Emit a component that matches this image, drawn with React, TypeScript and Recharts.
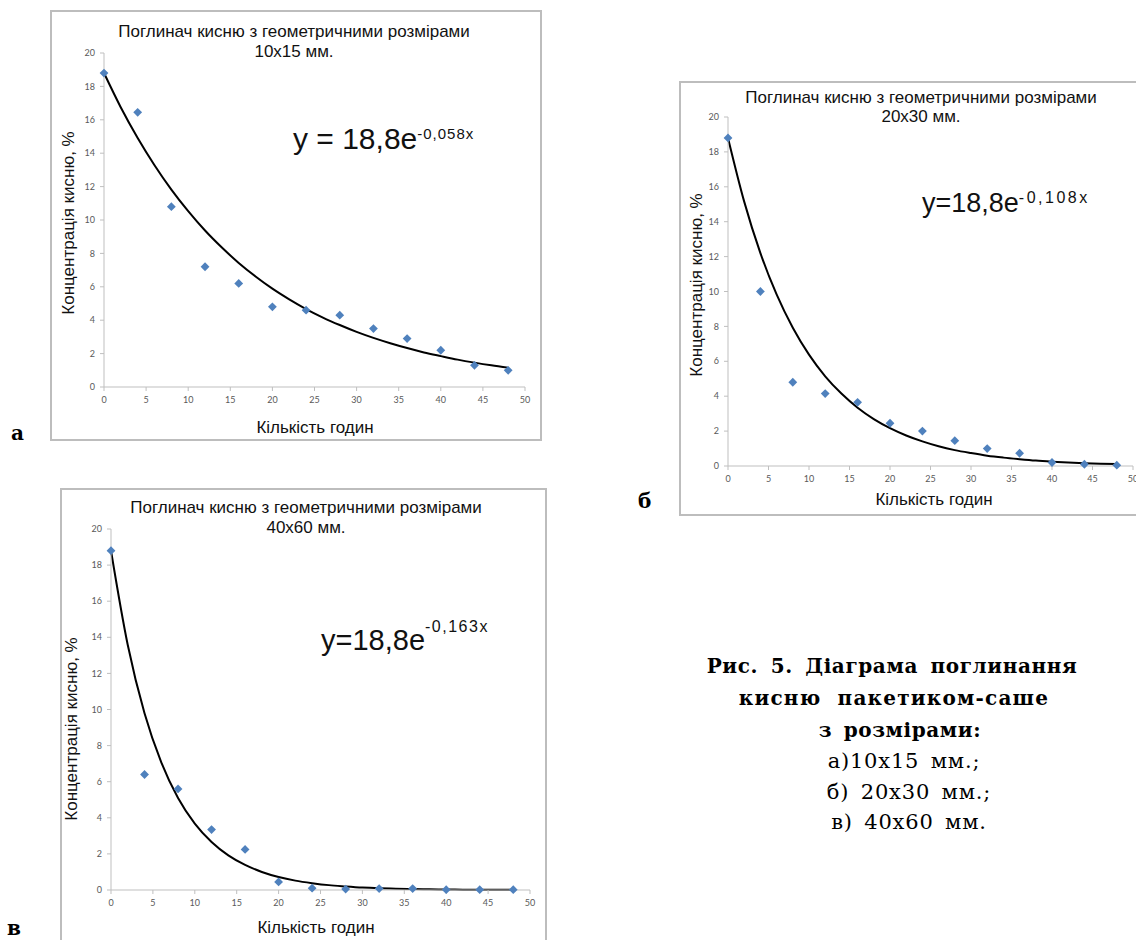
import React from 'react';
import { ComposedChart, XAxis, YAxis, Line, Scatter } from 'recharts';

// ---------- data ----------
const hours = [0, 4, 8, 12, 16, 20, 24, 28, 32, 36, 40, 44, 48];
const oxygenA = [18.8, 16.45, 10.8, 7.2, 6.2, 4.8, 4.6, 4.3, 3.5, 2.9, 2.2, 1.3, 1.0];
const oxygenB = [18.8, 10.0, 4.8, 4.15, 3.65, 2.45, 2.0, 1.45, 1.0, 0.73, 0.2, 0.1, 0.05];
const oxygenC = [18.8, 6.4, 5.6, 3.35, 2.25, 0.45, 0.1, 0.05, 0.08, 0.08, 0.02, 0.02, 0.02];

const trendHours = [0, 2, 4, 6, 8, 10, 12, 14, 16, 18, 20, 22, 24, 26, 28, 30, 32, 34, 36, 38, 40, 42, 44, 46, 48];
const trendA = [18.8, 16.74, 14.91, 13.28, 11.82, 10.53, 9.37, 8.35, 7.43, 6.62, 5.89, 5.25, 4.67, 4.16, 3.71, 3.3, 2.94, 2.62, 2.33, 2.07, 1.85, 1.64, 1.46, 1.3, 1.16];
const trendB = [18.8, 15.15, 12.2, 9.83, 7.92, 6.38, 5.14, 4.15, 3.34, 2.69, 2.17, 1.75, 1.41, 1.13, 0.91, 0.74, 0.59, 0.48, 0.39, 0.31, 0.25, 0.2, 0.16, 0.13, 0.11];
const trendC = [18.8, 13.57, 9.79, 7.07, 5.1, 3.68, 2.66, 1.92, 1.39, 1.0, 0.72, 0.52, 0.38, 0.27, 0.2, 0.14, 0.1, 0.074, 0.053, 0.038, 0.028, 0.02, 0.014, 0.01, 0.0075];

const xTicks = [0, 5, 10, 15, 20, 25, 30, 35, 40, 45, 50];
const yTicks = [0, 2, 4, 6, 8, 10, 12, 14, 16, 18, 20];

const titleMain = 'Поглинач кисню з геометричними розмірами';
const sizeLabels = ['10x15 мм.', '20x30 мм.', '40x60 мм.'];
const eqBase = ['y = 18,8e', 'y=18,8e', 'y=18,8e'];
const eqExp = ['-0,058x', '-0,108x', '-0,163x'];
const xTitle = 'Кількість годин';
const yTitle = 'Концентрація кисню, %';
const panelLetters = ['а', 'б', 'в'];
const captionLines = [
  'Рис. 5. Діаграма поглинання',
  'кисню пакетиком-саше',
  'з розмірами:',
  'а)10x15 мм.;',
  'б) 20x30 мм.;',
  'в) 40x60 мм.',
];

// ---------- components ----------
const Diamond = (props: any) => {
  const { cx, cy } = props;
  if (cx == null || cy == null) return null;
  const r = 4.4;
  return (
    <path
      d={`M${cx},${cy - r}L${cx + r},${cy}L${cx},${cy + r}L${cx - r},${cy}Z`}
      fill="#4F81BD"
    />
  );
};

const tickStyle = { fill: '#595959', fontSize: 9, fontFamily: 'Lato, "Liberation Sans", sans-serif' };

function Panel({ frame, margin, values, trend }: any) {
  const pts = hours.map((h, i) => ({ x: h, y: values[i] }));
  const tr = trendHours.map((h, i) => ({ x: h, y: trend[i] }));
  return (
    <div
      style={{
        position: 'absolute',
        left: frame.left,
        top: frame.top,
        width: frame.width,
        height: frame.height,
        border: '2px solid #bdbdbd',
        boxSizing: 'border-box',
        background: '#fff',
      }}
    >
      <ComposedChart width={frame.width - 4} height={frame.height - 4} margin={margin}>
        <XAxis
          type="number"
          dataKey="x"
          domain={[0, 50]}
          ticks={xTicks}
          interval={0}
          height={30}
          tickSize={4}
          tickMargin={6}
          axisLine={{ stroke: '#bfbfbf' }}
          tickLine={{ stroke: '#bfbfbf' }}
          tick={tickStyle}
        />
        <YAxis
          type="number"
          dataKey="y"
          domain={[0, 20]}
          ticks={yTicks}
          interval={0}
          width={30}
          tickSize={4}
          tickMargin={5}
          axisLine={{ stroke: '#bfbfbf' }}
          tickLine={{ stroke: '#bfbfbf' }}
          tick={tickStyle}
        />
        <Line
          data={tr}
          dataKey="y"
          type="monotone"
          dot={false}
          stroke="#000"
          strokeWidth={2}
          isAnimationActive={false}
        />
        <Scatter data={pts} dataKey="y" shape={Diamond} isAnimationActive={false} />
      </ComposedChart>
    </div>
  );
}

const sans = '"Liberation Sans", Arial, sans-serif';
const serif = '"DejaVu Serif", "Liberation Serif", serif';

export default function App() {
  const panels = [
    {
      frame: { left: 50, top: 10, width: 492, height: 431 },
      margin: { left: 22, top: 41, right: 15, bottom: 22 },
      values: oxygenA,
      trend: trendA,
      title: { cx: 294, y1: 37, y2: 57 },
      eq: { x: 293, y: 149, size: 30, expSize: 15, dy: -10, ls: 1 },
      xt: { cx: 315, y: 433 },
      yt: { x: 74, cy: 223 },
      letter: { x: 11, y: 440 },
    },
    {
      frame: { left: 679, top: 81, width: 471, height: 435 },
      margin: { left: 17, top: 34, right: 15, bottom: 18 },
      values: oxygenB,
      trend: trendB,
      title: { cx: 921, y1: 103, y2: 122 },
      eq: { x: 922, y: 212, size: 27, expSize: 16, dy: -9, ls: 2.5 },
      xt: { cx: 934, y: 505 },
      yt: { x: 702, cy: 285 },
      letter: { x: 638, y: 508 },
    },
    {
      frame: { left: 60, top: 488, width: 487, height: 472 },
      margin: { left: 19, top: 39, right: 15, bottom: 38 },
      values: oxygenC,
      trend: trendC,
      title: { cx: 306, y1: 513, y2: 533 },
      eq: { x: 321, y: 650, size: 29, expSize: 16, dy: -18, ls: 1.5 },
      xt: { cx: 316, y: 933 },
      yt: { x: 77, cy: 729 },
      letter: { x: 7, y: 935 },
    },
  ];

  const capCenters = [892, 894, 900, 904, 909, 909];
  const capBase = [673, 705, 737, 768, 799, 829];

  return (
    <div
      style={{
        position: 'absolute',
        left: 0,
        top: 0,
        width: 1136,
        height: 940,
        overflow: 'hidden',
        background: '#fff',
      }}
    >
      {panels.map((p, i) => (
        <Panel key={i} frame={p.frame} margin={p.margin} values={p.values} trend={p.trend} />
      ))}
      <svg
        width={1136}
        height={940}
        style={{ position: 'absolute', left: 0, top: 0, pointerEvents: 'none' }}
      >
        {panels.map((p, i) => (
          <g key={i} fontFamily={sans} fill="#111">
            <text x={p.title.cx} y={p.title.y1} textAnchor="middle" fontSize={17}>
              {titleMain}
            </text>
            <text x={p.title.cx} y={p.title.y2} textAnchor="middle" fontSize={17}>
              {sizeLabels[i]}
            </text>
            <text x={p.eq.x} y={p.eq.y} fontSize={p.eq.size}>
              {eqBase[i]}
              <tspan dy={p.eq.dy} fontSize={p.eq.expSize} letterSpacing={p.eq.ls}>
                {eqExp[i]}
              </tspan>
            </text>
            <text x={p.xt.cx} y={p.xt.y} textAnchor="middle" fontSize={17}>
              {xTitle}
            </text>
            <text
              x={p.yt.x}
              y={p.yt.cy}
              textAnchor="middle"
              fontSize={17}
              transform={`rotate(-90 ${p.yt.x} ${p.yt.cy})`}
            >
              {yTitle}
            </text>
            <text
              x={p.letter.x}
              y={p.letter.y}
              fontFamily={serif}
              fontWeight="bold"
              fontSize={20}
              fill="#000"
            >
              {panelLetters[i]}
            </text>
          </g>
        ))}
        <g fontFamily={serif} fill="#000">
          {captionLines.map((t, i) => (
            <text
              key={i}
              x={capCenters[i]}
              y={capBase[i]}
              textAnchor="middle"
              fontSize={i < 3 ? 20 : 21}
              fontWeight={i < 3 ? 'bold' : 'normal'}
              letterSpacing={i === 1 ? 1.2 : i < 3 ? 0.6 : 0.8}
              wordSpacing={i === 0 ? 5 : i === 1 ? 8 : 4}
            >
              {t}
            </text>
          ))}
        </g>
      </svg>
    </div>
  );
}
